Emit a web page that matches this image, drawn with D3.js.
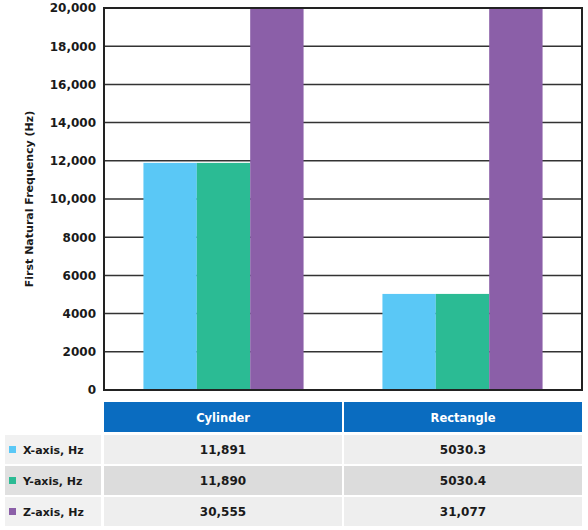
<!DOCTYPE html>
<html><head><meta charset="utf-8">
<script src="https://cdn.jsdelivr.net/npm/d3@7"></script>
<style>body{margin:0;background:#fff;}svg{display:block;font-family:"DejaVu Sans",sans-serif;font-weight:700;}</style>
</head><body>
<svg id="c" width="588" height="530"></svg>
<script>
const categories = ["Cylinder", "Rectangle"];
const seriesNames = ["X-axis, Hz", "Y-axis, Hz", "Z-axis, Hz"];
const xAxisHz = [11891, 5030.3];
const yAxisHz = [11890, 5030.4];
const zAxisHz = [30555, 31077];
const tableText = [["11,891", "5030.3"], ["11,890", "5030.4"], ["30,555", "31,077"]];
const yTicks = [0, 2000, 4000, 6000, 8000, 10000, 12000, 14000, 16000, 18000, 20000];
const colors = ["#5ac8f6", "#2bbb94", "#8b5fa8"];

const series = [xAxisHz, yAxisHz, zAxisHz];
const svg = d3.select("#c");
const m = {l:104, r:582, t:8, b:390};

const x = d3.scaleBand().domain(categories).range([m.l, m.r]).paddingInner(0.33).paddingOuter(0.165);
const xs = d3.scaleBand().domain(seriesNames).range([0, x.bandwidth()]);
const y = d3.scaleLinear().domain([0, 20000]).range([m.b, m.t]).clamp(true);

// gridlines
svg.append("g").selectAll("line").data(yTicks).join("line")
  .attr("x1", m.l).attr("x2", m.r).attr("y1", d=>y(d)).attr("y2", d=>y(d))
  .attr("stroke", "#333").attr("stroke-width", 1.5);

// bars
categories.forEach((c, ci) => {
  svg.append("g").selectAll("rect").data(series.map((s, si) => ({n: seriesNames[si], v: s[ci], si})))
    .join("rect")
    .attr("x", d => x(c) + xs(d.n))
    .attr("width", xs.bandwidth())
    .attr("y", d => y(d.v))
    .attr("height", d => y(0) - y(d.v))
    .attr("fill", d => colors[d.si]);
});

// frame
svg.append("rect").attr("x", m.l).attr("y", m.t).attr("width", m.r - m.l).attr("height", m.b - m.t)
  .attr("fill", "none").attr("stroke", "#222").attr("stroke-width", 2);

// y axis
const ya = svg.append("g").attr("transform", `translate(${m.l},0)`)
  .call(d3.axisLeft(y).tickValues(yTicks).tickSize(0).tickPadding(8)
    .tickFormat(d => d >= 10000 ? d3.format(",")(d) : String(d)));
ya.select(".domain").remove();
ya.selectAll("text").attr("font-size", 12).attr("font-weight", 700).attr("fill", "#1a1a1a")
  .attr("font-family", "DejaVu Sans, sans-serif");

svg.append("text").attr("transform", `translate(33,${(m.t+m.b)/2}) rotate(-90)`)
  .attr("text-anchor", "middle").attr("font-size", 11).attr("fill", "#1a1a1a")
  .text("First Natural Frequency (Hz)");

// table
const colX = [104, 344];
const colW = [238, 238];
svg.selectAll(".hdr").data(categories).join("rect")
  .attr("x", (d,i)=>colX[i]).attr("y", 402).attr("width", (d,i)=>colW[i]).attr("height", 30)
  .attr("fill", "#0a6cc0");
svg.selectAll(".hdrt").data(categories).join("text")
  .attr("x", (d,i)=>colX[i]+colW[i]/2).attr("y", 421.5).attr("text-anchor","middle")
  .attr("font-size", 11.5).attr("fill", "#fff").text(d=>d);

const rowY = [435, 466, 497];
const rowBg = ["#eeeeee", "#dcdcdc", "#eeeeee"];
seriesNames.forEach((s, ri) => {
  svg.append("rect").attr("x", 5).attr("y", rowY[ri]).attr("width", 96).attr("height", 29)
    .attr("fill", ri===1 ? "#e0e0e0" : "#f1f1f1");
  svg.append("rect").attr("x", 9).attr("y", rowY[ri]+11).attr("width", 7).attr("height", 7)
    .attr("fill", colors[ri]);
  svg.append("text").attr("x", 23).attr("y", rowY[ri]+19).attr("font-size", 11)
    .attr("fill", "#1a1a1a").text(s);
  categories.forEach((c, ci) => {
    svg.append("rect").attr("x", colX[ci]).attr("y", rowY[ri]).attr("width", colW[ci]).attr("height", 29)
      .attr("fill", rowBg[ri]);
    svg.append("text").attr("x", colX[ci]+colW[ci]/2).attr("y", rowY[ri]+19).attr("text-anchor","middle")
      .attr("font-size", 12).attr("fill", "#1a1a1a").text(tableText[ri][ci]);
  });
});
</script>
</body></html>
